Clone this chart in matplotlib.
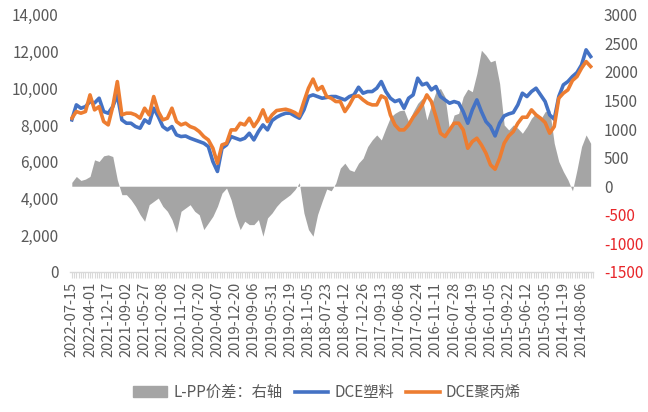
import matplotlib
matplotlib.use("Agg")
import matplotlib.pyplot as plt
import matplotlib.patches as mpatches
from matplotlib.lines import Line2D
import numpy as np

plt.rcParams["font.family"] = ["Noto Sans CJK SC", "DejaVu Sans"]

# tick labels, newest first (category axis, one label every 4 samples)
date_labels = [
    "2022-07-15", "2022-04-01", "2021-12-17", "2021-09-02", "2021-05-27",
    "2021-02-08", "2020-11-02", "2020-07-20", "2020-04-07", "2019-12-20",
    "2019-09-06", "2019-05-31", "2019-02-19", "2018-11-05", "2018-07-23",
    "2018-04-12", "2017-12-26", "2017-09-13", "2017-06-08", "2017-02-24",
    "2016-11-11", "2016-07-28", "2016-04-19", "2016-01-05", "2015-09-22",
    "2015-06-12", "2015-03-05", "2014-11-19", "2014-08-06",
]

# DCE塑料 (left axis)
dce_l = [
    8280, 9097, 8915, 9000, 9278, 9200, 9460, 8733, 8643, 9000,
    9640, 8280, 8098, 8098, 7915, 7826, 8280, 8098, 8915, 8461,
    7915, 7735, 7915, 7463, 7372, 7400, 7282, 7190, 7100, 7008,
    6826, 6009, 5470, 6735, 6917, 7371, 7280, 7189, 7280, 7552,
    7189, 7643, 8006, 7734, 8242, 8424, 8551, 8642, 8642, 8497,
    8370, 8824, 9550, 9641, 9550, 9459, 9500, 9550, 9550, 9459,
    9368, 9550, 9641, 10058, 9732, 9822, 9822, 10004, 10367, 9822,
    9459, 9278, 9368, 8914, 9459, 9641, 10549, 10186, 10276, 9913,
    10095, 9550, 9368, 9187, 9278, 9200, 8733, 8097, 8824, 9368,
    8733, 8188, 7916, 7407, 8097, 8497, 8606, 8678, 9096, 9732,
    9550, 9822, 10004, 9641, 9278, 8551, 8315, 9550, 10186, 10367,
    10640, 10858, 11275, 12092, 11729,
]

# DCE聚丙烯 (left axis)
dce_pp = [
    8370, 8733, 8643, 8733, 9641, 8824, 9000, 8189, 8007, 9000,
    10366, 8552, 8643, 8643, 8552, 8370, 8915, 8552, 9550, 8733,
    8280, 8370, 8915, 8189, 8007, 8098, 7915, 7826, 7644, 7371,
    7189, 6735, 5918, 6917, 7008, 7734, 7734, 8097, 8006, 8370,
    7915, 8279, 8824, 8188, 8551, 8787, 8824, 8860, 8787, 8678,
    8497, 9278, 10004, 10500, 9913, 10095, 9550, 9459, 9278, 9278,
    8733, 9096, 9550, 9586, 9368, 9187, 9096, 9096, 9586, 9459,
    8551, 8006, 7734, 7734, 8006, 8424, 8733, 9096, 9641, 9278,
    8461, 7552, 7371, 7734, 8097, 8100, 7734, 6735, 7099, 7280,
    6917, 6463, 5827, 5591, 6190, 7008, 7407, 7643, 8097, 8424,
    8424, 8824, 8551, 8370, 8134, 7552, 7915, 9459, 9732, 9913,
    10422, 10640, 11094, 11457, 11185,
]

# L-PP价差 (right axis)
spread = [
    67, 171, 101, 125, 171, 462, 433, 532, 549, 520,
    113, -148, -148, -236, -352, -497, -613, -323, -265, -207,
    -352, -439, -584, -810, -439, -381, -323, -439, -500, -759,
    -643, -526, -352, -120, -32, -236, -526, -760, -613, -672,
    -672, -584, -875, -555, -468, -352, -265, -207, -148, -61,
    60, -468, -759, -875, -497, -265, -49, -80, 55, 317,
    404, 288, 258, 404, 491, 694, 810, 898, 810, 1014,
    1206, 1276, 1322, 1334, 1130, 1305, 1450, 1537, 1160, 1421,
    1654, 1712, 1566, 985, 1247, 1276, 1566, 1700, 1654, 1973,
    2380, 2293, 2177, 2206, 1799, 1072, 985, 1072, 1014, 927,
    1043, 1189, 1276, 1170, 1305, 1334, 752, 433, 258, 113,
    -80, 288, 694, 898, 752,
]

blue = "#4472C4"
orange = "#ED7D31"
grey = "#A5A5A5"
txt = "#595959"
axis_c = "#D9D9D9"

x = np.arange(len(dce_l))
step = 4

fig = plt.figure(figsize=(6.48, 4.12), dpi=100)
ax = fig.add_axes([0.108, 0.340, 0.807, 0.624])
ax2 = ax.twinx()

# area on the twin axis, lines on the host drawn above it
ax2.fill_between(x, 0, spread, color=grey, linewidth=0)
ax.plot(x, dce_l, color=blue, linewidth=2.6, solid_joinstyle="round")
ax.plot(x, dce_pp, color=orange, linewidth=2.6, solid_joinstyle="round")
ax.set_zorder(ax2.get_zorder() + 1)
ax.patch.set_visible(False)

ax.set_xlim(-0.4, len(x) - 0.75)
ax.set_ylim(0, 14000)
ax2.set_ylim(-1500, 3000)

ax.set_yticks(np.arange(0, 14001, 2000))
ax.set_yticklabels([f"{v:,}" for v in range(0, 14001, 2000)])
r_ticks = list(range(-1500, 3001, 500))
ax2.set_yticks(r_ticks)
ax2.set_yticklabels([str(v) for v in r_ticks])
for lab, v in zip(ax2.get_yticklabels(), r_ticks):
    lab.set_color("#E8262A" if v < 0 else txt)

ax.set_xticks(x[::step][: len(date_labels)])
ax.set_xticklabels(date_labels, rotation=90)
ax.set_xticks(np.arange(0, len(x), 0.5), minor=True)

for a in (ax, ax2):
    for s in a.spines.values():
        s.set_visible(False)
ax.spines["bottom"].set_visible(True)
ax.spines["bottom"].set_color(axis_c)
ax.spines["bottom"].set_linewidth(1.0)

ax.tick_params(axis="x", which="both", colors=axis_c, length=4, width=0.8,
               labelcolor=txt, labelsize=10.5, pad=3)
ax.tick_params(axis="y", length=0, labelcolor=txt, labelsize=11, pad=8)
ax2.tick_params(axis="y", length=0, labelsize=11, pad=8)

handles = [
    mpatches.Patch(color=grey, label="L-PP价差：右轴"),
    Line2D([], [], color=blue, linewidth=2.6, label="DCE塑料"),
    Line2D([], [], color=orange, linewidth=2.6, label="DCE聚丙烯"),
]
leg = fig.legend(handles=handles, loc="center", bbox_to_anchor=(0.505, 0.047),
                 ncol=3, frameon=False, fontsize=11, handlelength=2.2,
                 handletextpad=0.4, columnspacing=0.8)
for t in leg.get_texts():
    t.set_color(txt)

fig.savefig("out.png", dpi=100, facecolor="white")
